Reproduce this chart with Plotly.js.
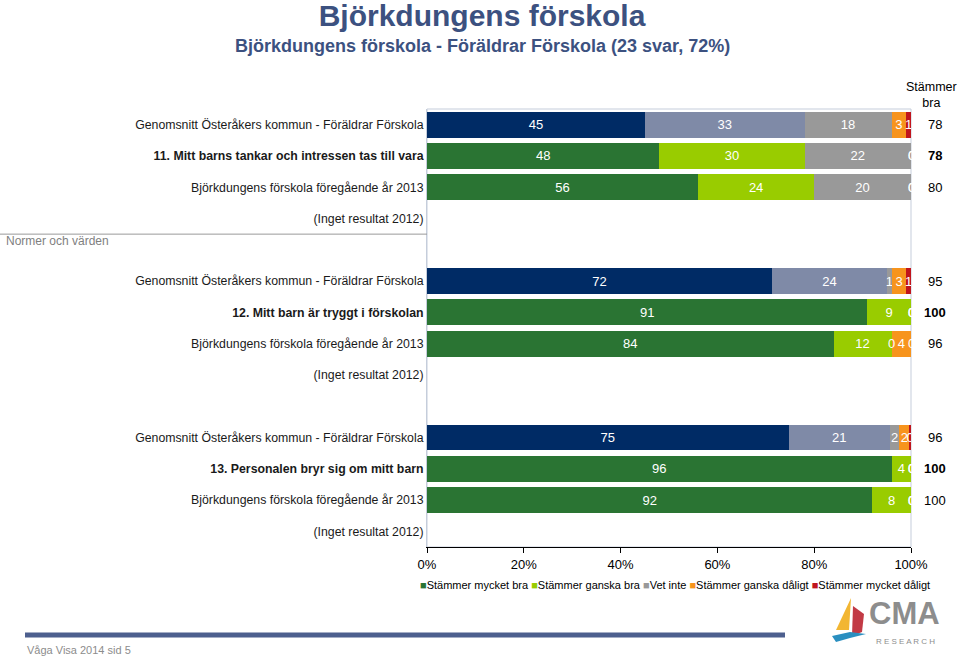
<!DOCTYPE html>
<html>
<head>
<meta charset="utf-8">
<script src="https://cdn.plot.ly/plotly-3.0.1.min.js"></script>
<style>html,body{margin:0;padding:0;background:#fff;}#chart{width:960px;height:657px;}</style>
</head>
<body>
<div id="chart"></div>
<script>
// ---------- DATA ----------
const rowLabels = [
  "Genomsnitt Österåkers kommun - Föräldrar Förskola",
  "<b>11. Mitt barns tankar och intressen tas till vara</b>",
  "Björkdungens förskola föregående år 2013",
  "(Inget resultat 2012)",
  "",
  "Genomsnitt Österåkers kommun - Föräldrar Förskola",
  "<b>12. Mitt barn är tryggt i förskolan</b>",
  "Björkdungens förskola föregående år 2013",
  "(Inget resultat 2012)",
  "",
  "Genomsnitt Österåkers kommun - Föräldrar Förskola",
  "<b>13. Personalen bryr sig om mitt barn</b>",
  "Björkdungens förskola föregående år 2013",
  "(Inget resultat 2012)"
];
const groupLabel = "Normer och värden";

const xTickVals = [0, 20, 40, 60, 80, 100];
const xTickText = ["0%", "20%", "40%", "60%", "80%", "100%"];

const seriesNames = ["Stämmer mycket bra", "Stämmer ganska bra", "Vet inte", "Stämmer ganska dåligt", "Stämmer mycket dåligt"];

// Municipal average rows
const avgRows = [0, 5, 10];
const avgMycketBra    = [45, 72, 75];
const avgGanskaBra    = [33, 24, 21];
const avgVetInte      = [18, 1, 2];
const avgGanskaDaligt = [3, 3, 2];
const avgMycketDaligt = [1, 1, 0.4];

// School rows (question + previous year)
const schoolRows = [1, 2, 6, 7, 11, 12];
const mycketBra    = [48, 56, 91, 84, 96, 92];
const ganskaBra    = [30, 24, 9, 12, 4, 8];
const vetInte      = [22, 20, 0, 0, 0, 0];
const ganskaDaligt = [0, 0, 0, 4, 0, 0];
const mycketDaligt = [0, 0, 0, 0, 0, 0];

// "Stämmer bra" column
const sbRows   = [0, 1, 2, 5, 6, 7, 10, 11, 12];
const sbValues = [78, 78, 80, 95, 100, 96, 96, 100, 100];
const sbBold   = [false, true, false, false, true, false, false, true, false];

// ---------- STYLE ----------
const FONT = "Liberation Sans, Arial, Helvetica, sans-serif";
const schoolColors = ["#2a7433", "#99cc00", "#999999", "#f7941d", "#c0151d"];
const avgColors    = ["#002b65", "#7f8aa7", "#999999", "#f7941d", "#c0151d"];

const W = 960, H = 657;
const L = 427, R = 911, T = 109, B = 547;
const px = x => (x - L) / (R - L);
const py = y => (B - y) / (B - T);

const schoolSeries = [mycketBra, ganskaBra, vetInte, ganskaDaligt, mycketDaligt];
const avgSeries = [avgMycketBra, avgGanskaBra, avgVetInte, avgGanskaDaligt, avgMycketDaligt];

const traces = [];
function addTraces(series, rows, colors) {
  series.forEach((vals, i) => {
    traces.push({
      type: "bar", orientation: "h",
      x: vals, y: rows,
      name: seriesNames[i],
      marker: {color: colors[i], line: {width: 0}},
      text: vals.map(v => v === 0 ? "" : String(Math.round(v))),
      textposition: "inside",
      insidetextanchor: "middle",
      constraintext: "none",
      textangle: 0,
      textfont: {color: "#ffffff", size: 13, family: FONT},
      showlegend: false,
      hoverinfo: "skip"
    });
  });
}
addTraces(avgSeries, avgRows, avgColors);
addTraces(schoolSeries, schoolRows, schoolColors);

const annotations = [];
// zero labels at the stacked boundary
function addZeroLabels(series, rows) {
  rows.forEach((r, j) => {
    const total = series.reduce((s, arr) => s + arr[j], 0);
    let cum = 0;
    series.forEach(arr => {
      const v = arr[j];
      if (v === 0) {
        annotations.push({
          x: cum / total * 100, y: r, xref: "x", yref: "y",
          text: "0", showarrow: false, xanchor: "center", yanchor: "middle",
          font: {color: "#ffffff", size: 13, family: FONT}
        });
      }
      cum += v;
    });
  });
}
addZeroLabels(schoolSeries, schoolRows);
addZeroLabels(avgSeries, avgRows);

// Stämmer bra column
sbRows.forEach((r, i) => {
  annotations.push({
    x: px(935), xref: "paper", y: r, yref: "y",
    text: sbBold[i] ? "<b>" + sbValues[i] + "</b>" : String(sbValues[i]),
    showarrow: false, xanchor: "center", yanchor: "middle",
    font: {color: "#000000", size: 13, family: FONT}
  });
});
annotations.push({
  x: px(959), xref: "paper", y: py(95), yref: "paper",
  text: "Stämmer<br>bra", showarrow: false, xanchor: "right", yanchor: "middle", align: "center",
  font: {color: "#000000", size: 12.5, family: FONT}
});

// Group label
annotations.push({
  x: px(4), xref: "paper", y: 3.73, yref: "y",
  text: groupLabel, showarrow: false, xanchor: "left", yanchor: "middle",
  font: {color: "#7f7f7f", size: 12, family: FONT}
});

// Subtitle
annotations.push({
  x: px(482), xref: "paper", y: py(46), yref: "paper",
  text: "<b>Björkdungens förskola - Föräldrar Förskola (23 svar, 72%)</b>",
  showarrow: false, xanchor: "center", yanchor: "middle",
  font: {color: "#3c5180", size: 18, family: FONT}
});

// Legend built as text
const legendHtml = seriesNames.map((n, i) =>
  '<span style="color:' + schoolColors[i] + '">■</span>' + n).join(" ");
annotations.push({
  x: px(675), xref: "paper", y: py(585), yref: "paper",
  text: legendHtml, showarrow: false, xanchor: "center", yanchor: "middle",
  font: {color: "#000000", size: 11, family: FONT}
});

// Footer
annotations.push({
  x: px(25), xref: "paper", y: py(650), yref: "paper",
  text: "Våga Visa 2014 sid 5", showarrow: false, xanchor: "left", yanchor: "middle",
  font: {color: "#8c8c8c", size: 11, family: FONT}
});
// Logo text
annotations.push({
  x: px(904), xref: "paper", y: py(613), yref: "paper",
  text: "<b>CMA</b>", showarrow: false, xanchor: "center", yanchor: "middle",
  font: {color: "#8d8d8d", size: 31, family: FONT}
});
annotations.push({
  x: px(905), xref: "paper", y: py(641), yref: "paper",
  text: "R E S E A R C H", showarrow: false, xanchor: "center", yanchor: "middle",
  font: {color: "#8d8d8d", size: 8, family: FONT}
});

function pth(pts) {
  return "M" + pts.map(p => px(p[0]) + "," + py(p[1])).join(" L") + " Z";
}

const shapes = [
  // plot border
  {type: "rect", xref: "paper", yref: "paper", x0: 0, x1: 1, y0: 0, y1: 1,
   line: {color: "#c5cddb", width: 1}, layer: "below"},
  // group separator line
  {type: "line", xref: "paper", yref: "y", x0: px(0), x1: 0, y0: 3.5, y1: 3.5,
   line: {color: "#9a9a9a", width: 1}},
  // footer line
  {type: "line", xref: "paper", yref: "paper", x0: px(25), x1: px(785), y0: py(635), y1: py(635),
   line: {color: "#4d5f8e", width: 5}},
  // logo sails and wave
  {type: "path", xref: "paper", yref: "paper", path: pth([[851, 598], [836, 630], [849, 630]]),
   fillcolor: "#f2b632", line: {width: 0}},
  {type: "path", xref: "paper", yref: "paper", path: pth([[853, 606], [864, 614], [862, 632], [852, 636]]),
   fillcolor: "#c23a45", line: {width: 0}},
  {type: "path", xref: "paper", yref: "paper", path: pth([[832, 636], [850, 632], [866, 634], [850, 638], [836, 642]]),
   fillcolor: "#2a8fc0", line: {width: 0}}
];

const layout = {
  width: W, height: H,
  margin: {l: L, r: W - R, t: T, b: H - B, pad: 0},
  paper_bgcolor: "#ffffff", plot_bgcolor: "#ffffff",
  font: {family: FONT, color: "#000000"},
  title: {
    text: "<b>Björkdungens förskola</b>",
    x: 482 / W, xanchor: "center", xref: "container",
    y: 1 - 15 / H, yanchor: "middle", yref: "container",
    font: {family: FONT, size: 30, color: "#3c5180"}
  },
  barmode: "stack", barnorm: "percent", bargap: 0.17,
  uniformtext: {mode: "show", minsize: 13},
  showlegend: false,
  xaxis: {
    range: [0, 100], tickmode: "array", tickvals: xTickVals, ticktext: xTickText,
    ticks: "outside", ticklen: 5, tickcolor: "#000000", tickwidth: 1,
    showline: true, linecolor: "#000000", linewidth: 1,
    showgrid: false, zeroline: false, fixedrange: true,
    tickfont: {size: 13, color: "#000000", family: FONT}
  },
  yaxis: {
    range: [13.5, -0.5], tickmode: "array", tickvals: rowLabels.map((_, i) => i), ticktext: rowLabels,
    ticks: "", showline: true, linecolor: "#c5cddb", showgrid: false, zeroline: false,
    tickfont: {size: 12.3, color: "#1a1a1a", family: FONT}, fixedrange: true
  },
  annotations: annotations,
  shapes: shapes,
  hovermode: false
};

Plotly.newPlot("chart", traces, layout, {displayModeBar: false, staticPlot: true});
</script>
</body>
</html>
